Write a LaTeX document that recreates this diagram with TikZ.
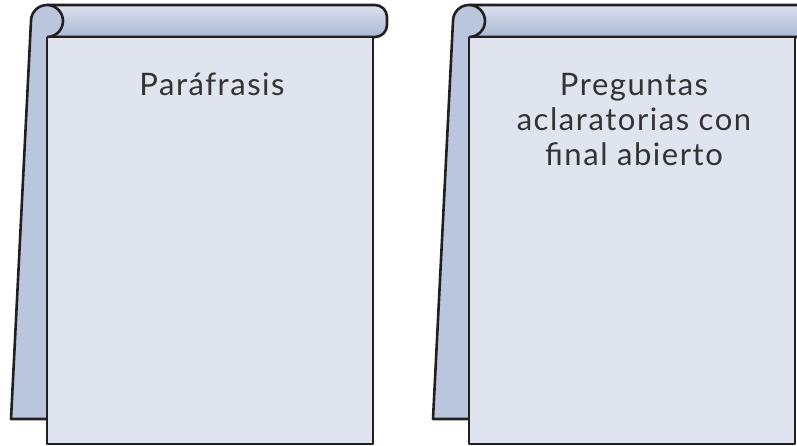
\documentclass[tikz,border=0pt]{standalone}
\usepackage{fontspec}
\setmainfont{Lato}[LetterSpace=5]
\definecolor{pagec}{HTML}{E0E4EF}
\definecolor{flapc}{HTML}{BAC6DD}
\definecolor{edgec}{HTML}{231F20}
\definecolor{bartop}{HTML}{DCE1ED}
\definecolor{barmid}{HTML}{F4F5FA}
\definecolor{barbot}{HTML}{A9B8D3}
\definecolor{txtc}{HTML}{333333}
\tikzset{
  outline/.style={draw=edgec, line width=2.6pt, line join=round},
  padtext/.style={text=txtc, font=\fontsize{31}{35}\selectfont, inner sep=0pt, align=center},
}
\begin{document}
\begin{tikzpicture}[x=1pt,y=-1pt]
\useasboundingbox (0,0) rectangle (797,446);
\clip (0,0) rectangle (797,446);
\foreach \o in {0,422} {
  \begin{scope}[xshift=\o pt]
    % back flap
    \fill[flapc] (31,21) -- (11,419) -- (47,419) -- (47,21) -- cycle;
    % rolled top bar
    \shade[top color=bartop, middle color=barmid, bottom color=barbot, rounded corners=12pt]
      (47,5) -- (387,5) -- (387,37) -- (47,37) -- cycle;
    \draw[outline, rounded corners=12pt] (47,5) -- (387,5) -- (387,37) -- (47,37);
    % page
    \filldraw[outline, fill=pagec] (47,37) rectangle (373,444);
    % roll end and flap edge
    \fill[flapc] (47,21) circle (16pt);
    \draw[outline] (47,37) arc (90:-180:16) -- (11,419) -- (47,419);
  \end{scope}
}
\node[padtext, anchor=north] (t1) at (212,73) {Paráfrasis};
\node[padtext, anchor=north] (t2) at (634,73) {Preguntas\\aclaratorias con\\final abierto};
\end{tikzpicture}
\end{document}
